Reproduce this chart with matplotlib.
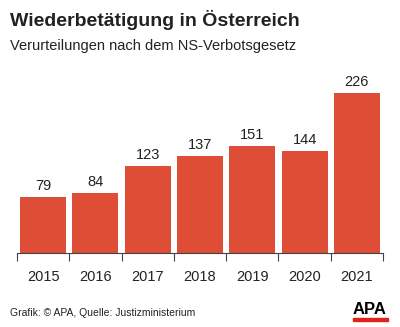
import matplotlib.pyplot as plt
from matplotlib.patches import Rectangle

plt.rcParams['font.family'] = ['Liberation Sans', 'DejaVu Sans']

years = ['2015', '2016', '2017', '2018', '2019', '2020', '2021']
verurteilungen = [79, 84, 123, 137, 151, 144, 226]

bar_color = '#DE4E36'
text_color = '#222222'

fig = plt.figure(figsize=(4.0, 3.27), dpi=100)
ax = fig.add_axes([0.0425, 0.2263, 0.915, 0.59])

x = list(range(len(years)))
bars = ax.bar(x, verurteilungen, width=0.88, color=bar_color, zorder=2)
for xi, v in zip(x, verurteilungen):
    ax.annotate(str(v), (xi, v), xytext=(0, 3), textcoords='offset points',
                ha='center', va='bottom', fontsize=10.5, color=text_color)

ax.set_xlim(-0.5, len(years) - 0.5)
ax.set_ylim(0, 272)

# labels sit under the bars, tick marks between them
ax.set_xticks([i - 0.5 for i in range(len(years) + 1)])
ax.set_xticklabels([])
ax.set_xticks(x, minor=True)
ax.set_xticklabels(years, minor=True, fontsize=10.5, color=text_color)
ax.tick_params(axis='x', which='major', length=6, width=0.8, color='#444444')
ax.tick_params(axis='x', which='minor', length=0, pad=12)
ax.set_yticks([])

for side in ['top', 'right', 'left']:
    ax.spines[side].set_visible(False)
ax.spines['bottom'].set_color('#444444')
ax.spines['bottom'].set_linewidth(0.8)

fig.text(0.025, 0.94, 'Wiederbetätigung in Österreich', fontsize=14,
         fontweight='bold', color=text_color, va='center', ha='left')
fig.text(0.025, 0.858, 'Verurteilungen nach dem NS-Verbotsgesetz', fontsize=10.5,
         color=text_color, va='center', ha='left')
fig.text(0.025, 0.043, 'Grafik: © APA, Quelle: Justizministerium', fontsize=7.5,
         color=text_color, va='center', ha='left')

# APA logo
fig.text(0.924, 0.03, 'APA', fontsize=12, fontweight='bold', color='black',
         ha='center', va='bottom')
fig.patches.append(Rectangle((0.882, 0.018), 0.088, 0.01, transform=fig.transFigure,
                             color='#E2231A', zorder=3))

fig.savefig('out.png', dpi=100)
